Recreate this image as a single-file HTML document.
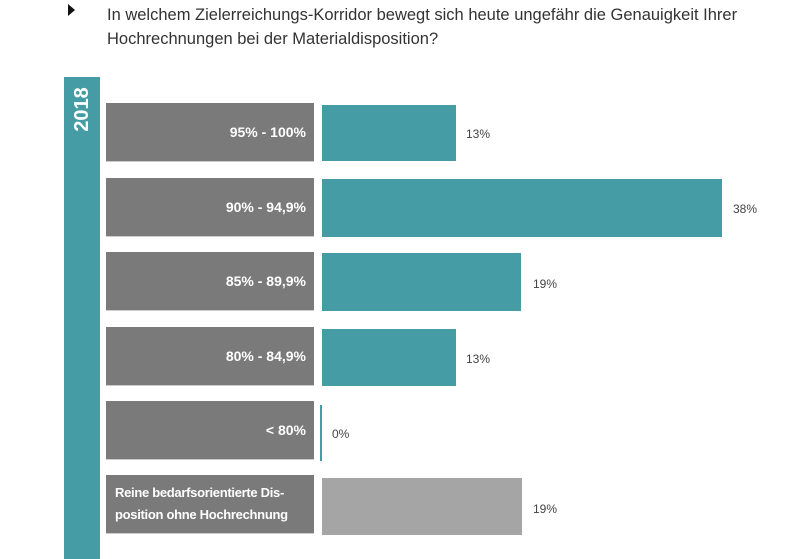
<!DOCTYPE html>
<html><head><style>
body{margin:0;width:810px;height:559px;background:#fff;position:relative;overflow:hidden;font-family:"Liberation Sans",sans-serif}
.a{position:absolute}
.t{font-size:16.5px;color:#333;line-height:24px}
.lb{position:absolute;left:106px;width:208px;background:#7a7a7a;color:#fff;font-weight:bold;font-size:14px;display:flex;align-items:center;justify-content:flex-end;text-align:right;padding-right:8px;box-sizing:border-box;border-bottom:1px solid #ccc}
.b{position:absolute;left:322px;background:#459ca4}
.v{position:absolute;font-size:12px;color:#444}
</style></head><body>
<div class="a" style="left:68px;top:4px;width:0;height:0;border-left:7px solid #111;border-top:6px solid transparent;border-bottom:6px solid transparent"></div>
<div class="a t" style="left:107px;top:3px">In welchem Zielerreichungs-Korridor bewegt sich heute ungefähr die Genauigkeit Ihrer<br>Hochrechnungen bei der Materialdisposition?</div>
<div class="a" style="left:64px;top:77px;width:36px;height:482px;background:#459ca4"></div>
<div class="a" style="left:64px;top:82px;width:36px;height:54px;display:flex;align-items:center;justify-content:center"><span style="transform:rotate(-90deg);color:#fff;font-weight:bold;font-size:20px;display:block">2018</span></div>

<div class="lb" style="top:103px;height:59px">95% - 100%</div>
<div class="b" style="top:105px;height:56px;width:134px"></div>
<div class="v" style="left:466px;top:127px">13%</div>

<div class="lb" style="top:178px;height:59px">90% - 94,9%</div>
<div class="b" style="top:179px;height:58px;width:400px"></div>
<div class="v" style="left:733px;top:202px">38%</div>

<div class="lb" style="top:252px;height:59px">85% - 89,9%</div>
<div class="b" style="top:253px;height:58px;width:199px"></div>
<div class="v" style="left:533px;top:277px">19%</div>

<div class="lb" style="top:327px;height:59px">80% - 84,9%</div>
<div class="b" style="top:329px;height:57px;width:134px"></div>
<div class="v" style="left:466px;top:352px">13%</div>

<div class="lb" style="top:401px;height:59px">&lt; 80%</div>
<div class="b" style="top:405px;height:56px;width:2px;left:320px"></div>
<div class="v" style="left:332px;top:427px">0%</div>

<div class="lb" style="top:475px;height:59px;justify-content:flex-start;text-align:left;padding-left:9px;padding-right:0;line-height:22px;font-size:13px;letter-spacing:-0.3px;white-space:nowrap">Reine bedarfsorientierte Dis-<br>position ohne Hochrechnung</div>
<div class="b" style="top:478px;height:57px;width:200px;background:#a5a5a5"></div>
<div class="v" style="left:533px;top:502px">19%</div>
</body></html>
